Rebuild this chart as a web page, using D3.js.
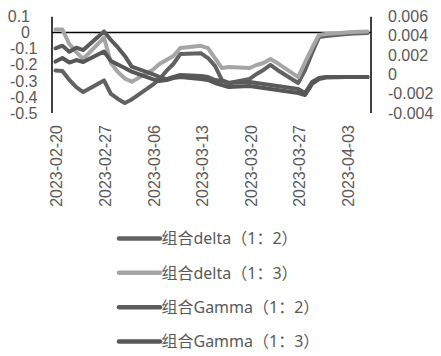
<!DOCTYPE html>
<html>
<head>
<meta charset="utf-8">
<script src="https://cdn.jsdelivr.net/npm/d3@7"></script>
<style>
  html, body { margin: 0; padding: 0; background: #ffffff; }
  svg { display: block; }
</style>
</head>
<body>
<svg id="chart" width="441" height="356"></svg>
<script>
// ---- data ----
const dates = [
  "2023-02-20","2023-02-21","2023-02-22","2023-02-23","2023-02-24",
  "2023-02-27","2023-02-28","2023-03-01","2023-03-02","2023-03-03",
  "2023-03-06","2023-03-07","2023-03-08","2023-03-09","2023-03-10",
  "2023-03-13","2023-03-14","2023-03-15","2023-03-16","2023-03-17",
  "2023-03-20","2023-03-21","2023-03-22","2023-03-23","2023-03-24",
  "2023-03-27","2023-03-28","2023-03-29","2023-03-30","2023-03-31",
  "2023-04-03","2023-04-04","2023-04-06"
];
// 组合delta（1：2） – left axis
const delta12 = [
  -0.236,-0.239,-0.295,-0.339,-0.370,
  -0.298,-0.382,-0.413,-0.438,-0.416,
  -0.326,-0.289,-0.239,-0.196,-0.134,
  -0.130,-0.159,-0.208,-0.295,-0.314,
  -0.289,-0.258,-0.233,-0.202,-0.233,
  -0.314,-0.233,-0.128,-0.029,-0.022,
  -0.010,-0.007,-0.004
];
// 组合delta（1：3） – left axis
const delta13 = [
  0.018,0.018,-0.072,-0.122,-0.165,
  -0.032,-0.190,-0.246,-0.286,-0.306,
  -0.233,-0.196,-0.171,-0.146,-0.097,
  -0.083,-0.097,-0.159,-0.221,-0.215,
  -0.221,-0.202,-0.190,-0.165,-0.190,
  -0.277,-0.184,-0.097,-0.016,-0.010,
  -0.001,0.002,0.006
];
// 组合Gamma（1：2） – right axis
const gamma12 = [
  0.00269,0.00296,0.00234,0.00275,0.00251,
  0.00443,0.00355,0.00278,0.00190,0.00079,
  0.00003,-0.00028,-0.00049,-0.00028,-0.00007,
  -0.00018,-0.00028,-0.00059,-0.00069,-0.00090,
  -0.00080,-0.00090,-0.00100,-0.00111,-0.00121,
  -0.00152,-0.00193,-0.00080,-0.00038,-0.00028,
  -0.00028,-0.00028,-0.00028
];
// 组合Gamma（1：3） – right axis
const gamma13 = [
  0.00132,0.00169,0.00122,0.00148,0.00127,
  0.00236,0.00138,0.00101,0.00065,0.00027,
  -0.00049,-0.00069,-0.00059,-0.00038,-0.00028,
  -0.00049,-0.00059,-0.00090,-0.00111,-0.00131,
  -0.00121,-0.00131,-0.00142,-0.00152,-0.00162,
  -0.00193,-0.00214,-0.00100,-0.00049,-0.00033,
  -0.00028,-0.00028,-0.00028
];
const seriesNames = ["组合delta（1：2）","组合delta（1：3）","组合Gamma（1：2）","组合Gamma（1：3）"];
const seriesColors = ["#626262","#a5a5a5","#5b5b5b","#575757"];
const leftTicks = [0.1, 0, -0.1, -0.2, -0.3, -0.4, -0.5];
const rightTicks = [0.006, 0.004, 0.002, 0, -0.002, -0.004];
const dateTicks = ["2023-02-20","2023-02-27","2023-03-06","2023-03-13","2023-03-20","2023-03-27","2023-04-03"];

// ---- layout ----
const svg = d3.select("#chart");
const parse = d3.utcParse("%Y-%m-%d");
const halfDay = 12 * 3600 * 1000;
const plotL = 52, plotR = 371, plotT = 16.3, plotB = 113;
const x = d3.scaleUtc()
  .domain([new Date(+parse(dates[0]) - halfDay), new Date(+parse(dates[dates.length - 1]) + halfDay)])
  .range([plotL, plotR]);
const yL = d3.scaleLinear().domain([-0.5, 0.1]).range([plotB, plotT]);
const yR = d3.scaleLinear().domain([-0.004, 0.006]).range([plotB, plotT]);
const loc = d3.formatLocale({decimal: ".", thousands: ",", grouping: [3], currency: ["", ""], minus: "-"});
const fL = v => v === 0 ? "0" : loc.format(".1f")(v);
const fR = v => v === 0 ? "0" : loc.format(".3f")(v);
const font = "'Liberation Sans', Arial, sans-serif";
const textColor = "#595959";

// axes (left, right, zero line)
svg.append("line").attr("x1", plotL).attr("x2", plotL).attr("y1", plotT + 0.5).attr("y2", plotB)
  .attr("stroke", "#000").attr("stroke-width", 1.5);
svg.append("line").attr("x1", plotR).attr("x2", plotR).attr("y1", plotT + 0.5).attr("y2", plotB)
  .attr("stroke", "#000").attr("stroke-width", 1.5);
svg.append("line").attr("x1", plotL).attr("x2", plotR).attr("y1", yL(0)).attr("y2", yL(0))
  .attr("stroke", "#000").attr("stroke-width", 1.5);

// left tick labels
svg.append("g").selectAll("text").data(leftTicks).join("text")
  .attr("x", d => d < 0 ? 37.5 : 30)
  .attr("y", d => yL(d))
  .attr("dy", "0.36em")
  .attr("text-anchor", "end")
  .attr("font-family", font).attr("font-size", 16).attr("fill", textColor)
  .text(fL);

// right tick labels
svg.append("g").selectAll("text").data(rightTicks).join("text")
  .attr("x", 388)
  .attr("y", d => yR(d))
  .attr("dy", "0.36em")
  .attr("text-anchor", "start")
  .attr("font-family", font).attr("font-size", 16).attr("fill", textColor)
  .text(fR);

// date labels (rotated)
svg.append("g").selectAll("text").data(dateTicks).join("text")
  .attr("transform", d => `translate(${x(parse(d)) + 1.2},125) rotate(-90)`)
  .attr("dy", "0.36em")
  .attr("text-anchor", "end")
  .attr("font-family", font).attr("font-size", 16).attr("fill", textColor)
  .text(d => d);

// lines
const allSeries = [
  {vals: delta12, y: yL},
  {vals: delta13, y: yL},
  {vals: gamma12, y: yR},
  {vals: gamma13, y: yR}
];
allSeries.forEach((s, i) => {
  const line = d3.line().x((d, j) => x(parse(dates[j]))).y(d => s.y(d));
  svg.append("path").datum(s.vals)
    .attr("d", line)
    .attr("fill", "none")
    .attr("stroke", seriesColors[i])
    .attr("stroke-width", 4)
    .attr("stroke-linejoin", "round")
    .attr("stroke-linecap", "round");
});

// legend
const legendY = [238.5, 272.8, 307.3, 341.5];
const lg = svg.append("g");
seriesNames.forEach((name, i) => {
  lg.append("line").attr("x1", 119).attr("x2", 160)
    .attr("y1", legendY[i]).attr("y2", legendY[i])
    .attr("stroke", seriesColors[i]).attr("stroke-width", 4.5).attr("stroke-linecap", "round");
  lg.append("text").attr("x", 161.5).attr("y", legendY[i]).attr("dy", "0.36em")
    .attr("font-family", "'Noto Sans', 'Noto Sans CJK SC', sans-serif")
    .attr("font-size", 16).attr("fill", textColor)
    .text(name);
});
</script>
</body>
</html>
